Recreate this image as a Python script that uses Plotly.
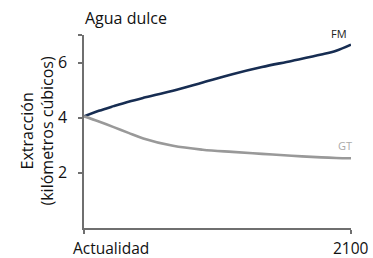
import plotly.graph_objects as go

years = [2010, 2015, 2020, 2025, 2030, 2040, 2050, 2060, 2070, 2080, 2090, 2095, 2100]
fm_values = [4.05, 4.25, 4.42, 4.58, 4.72, 4.98, 5.28, 5.58, 5.84, 6.06, 6.29, 6.43, 6.65]
gt_values = [4.05, 3.86, 3.66, 3.45, 3.25, 2.98, 2.84, 2.76, 2.69, 2.62, 2.56, 2.54, 2.53]

series_names = ["FM", "GT"]
y_tick_vals = [2, 4, 6, 7]
y_tick_labels = ["2", "4", "6", ""]
x_tick_vals = [2010, 2100]
x_tick_labels = ["Actualidad", "2100"]
chart_title = "Agua dulce"
y_title = "Extracción<br>(kilómetros cúbicos)"

FONT = "Open Sans"
AXIS_COLOR = "#6f6f6f"
FM_COLOR = "#172d52"
GT_COLOR = "#999999"
TXT = "#111111"

fig = go.Figure()
fig.add_trace(go.Scatter(x=years, y=fm_values, mode="lines", name=series_names[0],
                         line=dict(color=FM_COLOR, width=2.6, shape="spline", smoothing=1.0),
                         hoverinfo="skip"))
fig.add_trace(go.Scatter(x=years, y=gt_values, mode="lines", name=series_names[1],
                         line=dict(color=GT_COLOR, width=2.6, shape="spline", smoothing=1.0),
                         hoverinfo="skip"))

fig.update_layout(
    width=373, height=258,
    margin=dict(l=84, r=22, t=35, b=30),
    paper_bgcolor="white", plot_bgcolor="white",
    showlegend=False,
    font=dict(family=FONT, size=16, color=TXT),
)
fig.update_xaxes(range=[x_tick_vals[0], x_tick_vals[-1]], showgrid=False, zeroline=False,
                 showline=True, linecolor=AXIS_COLOR, linewidth=1.5,
                 tickvals=x_tick_vals, ticktext=["", ""], ticks="outside", ticklen=4,
                 tickcolor=AXIS_COLOR, tickwidth=1.5)
fig.update_yaxes(range=[0, 7], showgrid=False, zeroline=False,
                 showline=True, linecolor=AXIS_COLOR, linewidth=1.5,
                 tickvals=y_tick_vals, ticktext=y_tick_labels, ticks="outside", ticklen=4,
                 tickcolor=AXIS_COLOR, tickwidth=1.5, ticklabelstandoff=8,
                 tickfont=dict(family=FONT, size=16, color=TXT))

# x tick labels
fig.add_annotation(x=x_tick_vals[0], y=0, xref="x", yref="paper", text=x_tick_labels[0],
                   showarrow=False, xanchor="left", yanchor="top", xshift=-12, yshift=-8,
                   borderpad=0, font=dict(family=FONT, size=15.5, color=TXT))
fig.add_annotation(x=x_tick_vals[1], y=0, xref="x", yref="paper", text=x_tick_labels[1],
                   showarrow=False, xanchor="center", yanchor="top", yshift=-8,
                   borderpad=0, font=dict(family=FONT, size=15.5, color=TXT))

# title
fig.add_annotation(x=0, y=1, xref="paper", yref="paper", text=chart_title, showarrow=False,
                   xanchor="left", yanchor="bottom", xshift=-1, yshift=4,
                   font=dict(family=FONT, size=16, color=TXT))

# y axis title
fig.add_annotation(x=0, y=0.5, xref="paper", yref="paper", text=y_title, showarrow=False,
                   textangle=-90, xanchor="center", yanchor="middle", xshift=-47,
                   font=dict(family=FONT, size=16, color=TXT))

# series labels
fig.add_annotation(x=years[-1], y=fm_values[-1], xref="x", yref="y", text=series_names[0],
                   showarrow=False, xanchor="right", yanchor="bottom", xshift=-2, yshift=2,
                   font=dict(family=FONT, size=11, color="#222222"))
fig.add_annotation(x=years[-1], y=gt_values[-1], xref="x", yref="y", text=series_names[1],
                   showarrow=False, xanchor="right", yanchor="bottom", xshift=3, yshift=3,
                   font=dict(family=FONT, size=11, color="#aaaaaa"))

fig.write_html("out.html", config={"displayModeBar": False},
               post_script="document.body.style.margin='0';document.body.style.overflow='hidden';")
